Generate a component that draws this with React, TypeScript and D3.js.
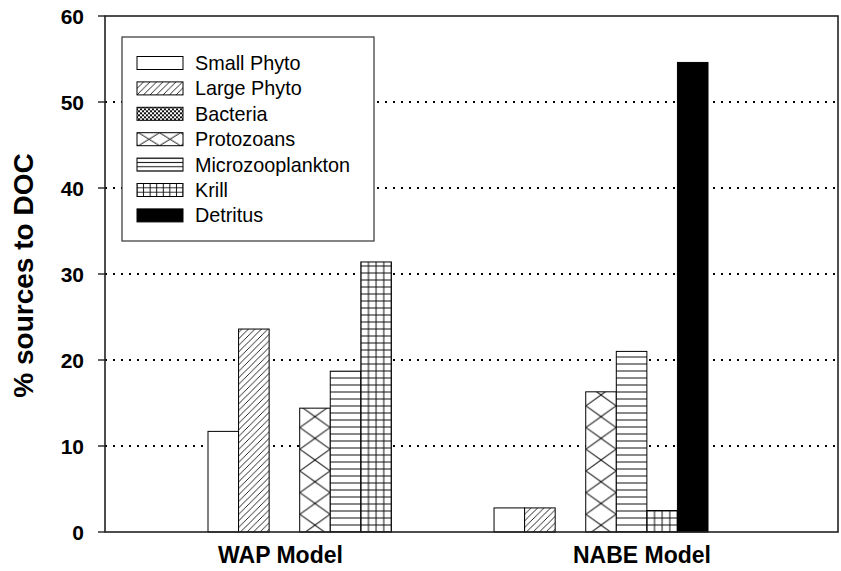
import React from 'react';
import * as d3 from 'd3';

const groups = ['WAP Model', 'NABE Model'];
const seriesNames = ['Small Phyto', 'Large Phyto', 'Bacteria', 'Protozoans', 'Microzooplankton', 'Krill', 'Detritus'];
const wapValues = [11.7, 23.6, 0, 14.4, 18.7, 31.4, 0];
const nabeValues = [2.8, 2.8, 0, 16.3, 21.0, 2.5, 54.6];
const patternKinds = ['none', 'slash', 'dense', 'xdiamond', 'hlines', 'grid', 'solid'];
const yTicks = [0, 10, 20, 30, 40, 50, 60];
const gridValues = [10, 20, 30, 40, 50];

const W = 841;
const H = 571;
const FONT = "'Liberation Sans', Arial, Helvetica, sans-serif";
const LINE = '#111';
const LW = 1;

type Cell = { w: number; h: number; kind: string };

function cellContent(c: Cell) {
  const { w, h, kind } = c;
  const els: any[] = [<rect key="bg" x={0} y={0} width={w} height={h} fill="#fff" />];
  if (kind === 'slash') {
    els.push(
      <path key="p" d={`M0,${h} L${w},0 M${-w / 2},${h / 2} L${w / 2},${-h / 2} M${w / 2},${h * 1.5} L${w * 1.5},${h / 2}`} stroke={LINE} strokeWidth={0.9} fill="none" />
    );
  } else if (kind === 'dense') {
    els.push(
      <path key="p" d={`M0,${h / 2} L${w / 2},0 L${w},${h / 2} L${w / 2},${h} Z`} stroke={LINE} strokeWidth={LW} fill="none" />
    );
  } else if (kind === 'xdiamond') {
    els.push(
      <path key="p" d={`M0,${h / 2} L${w / 2},0 L${w},${h / 2} L${w / 2},${h} Z`} stroke={LINE} strokeWidth={LW} fill="none" />
    );
  } else if (kind === 'hlines') {
    els.push(<path key="p" d={`M0,${h / 2} L${w},${h / 2}`} stroke={LINE} strokeWidth={LW} fill="none" />);
  } else if (kind === 'grid') {
    els.push(
      <path key="p" d={`M0,${h / 2} L${w},${h / 2} M${w / 2},0 L${w / 2},${h}`} stroke={LINE} strokeWidth={LW} fill="none" />
    );
  }
  return els;
}

export default function App() {
  const left = 105;
  const right = 838;
  const top = 16;
  const bottom = 532;

  const y = d3.scaleLinear().domain([0, 60]).range([bottom, top]);

  // bar placement
  const xGroup = d3.scaleBand<string>().domain(groups).range([208, 708]).paddingInner(0.252).paddingOuter(0);
  const xSeries = d3.scaleBand<string>().domain(seriesNames).range([0, xGroup.bandwidth()]).padding(0);
  const bw = xSeries.bandwidth();

  // category labels
  const xLabel = d3.scalePoint<string>().domain(groups).range([280.5, 642]);

  const valuesByGroup = [wapValues, nabeValues];

  const barCell = (kind: string): Cell => {
    switch (kind) {
      case 'slash': return { w: 6.5, h: 6.5, kind };
      case 'dense': return { w: 4, h: 4, kind };
      case 'xdiamond': return { w: bw, h: 21.7, kind };
      case 'hlines': return { w: bw, h: 7, kind };
      case 'grid': return { w: bw / 4, h: 7, kind };
      default: return { w: 10, h: 10, kind };
    }
  };

  const swW = 46;
  const swH = 13;
  const legendCell = (kind: string): Cell => {
    switch (kind) {
      case 'slash': return { w: 6.5, h: 6.5, kind };
      case 'dense': return { w: 4, h: 4, kind };
      case 'xdiamond': return { w: 21, h: swH, kind };
      case 'hlines': return { w: 10, h: swH / 3, kind };
      case 'grid': return { w: swW / 7, h: swH / 3, kind };
      default: return { w: 10, h: 10, kind };
    }
  };

  const bars: any[] = [];
  const defs: any[] = [];
  groups.forEach((g, gi) => {
    seriesNames.forEach((s, si) => {
      const v = valuesByGroup[gi][si];
      if (!v) return;
      const kind = patternKinds[si];
      const bx = (xGroup(g) as number) + (xSeries(s) as number);
      const by = y(v);
      const bh = y(0) - by;
      let fill = '#fff';
      if (kind === 'solid') fill = '#000';
      else if (kind !== 'none') {
        const id = `bp-${gi}-${si}`;
        const c = barCell(kind);
        let px = 0;
        let py = bottom;
        if (kind === 'xdiamond') { px = bx; py = bottom - c.h / 2 + 4; }
        if (kind === 'hlines') { px = bx; py = bottom - c.h / 2; }
        if (kind === 'grid') { px = bx - c.w / 2; py = bottom - c.h / 2; }
        defs.push(
          <pattern key={id} id={id} patternUnits="userSpaceOnUse" x={px} y={py} width={c.w} height={c.h}>
            {cellContent(c)}
          </pattern>
        );
        fill = `url(#${id})`;
      }
      bars.push(
        <rect key={`b-${gi}-${si}`} x={bx} y={by} width={bw} height={bh} fill={fill} stroke="#000" strokeWidth={1} />
      );
    });
  });

  // legend
  const lgX = 122;
  const lgY = 37;
  const lgW = 252;
  const lgH = 204;
  const rowY0 = 63;
  const rowStep = 25.4;
  const swX = 137;
  const legendItems: any[] = [];
  seriesNames.forEach((s, si) => {
    const kind = patternKinds[si];
    const cy = rowY0 + si * rowStep;
    const sy = cy - swH / 2;
    let fill = '#fff';
    if (kind === 'solid') fill = '#000';
    else if (kind !== 'none') {
      const id = `lp-${si}`;
      const c = legendCell(kind);
      let px = swX;
      let py = sy;
      if (kind === 'xdiamond') { px = swX + 1.5 - c.w / 2; py = sy; }
      if (kind === 'hlines') { py = sy - c.h / 2; }
      if (kind === 'grid') { px = swX - c.w / 2; py = sy - c.h / 2; }
      defs.push(
        <pattern key={id} id={id} patternUnits="userSpaceOnUse" x={px} y={py} width={c.w} height={c.h}>
          {cellContent(c)}
        </pattern>
      );
      fill = `url(#${id})`;
    }
    legendItems.push(
      <g key={`l-${si}`}>
        <rect x={swX} y={sy} width={swW} height={swH} fill={fill} stroke="#000" strokeWidth={1} />
        <text x={195} y={cy} dominantBaseline="central" fontSize={19.8} fontFamily={FONT} fill="#000">
          {s}
        </text>
      </g>
    );
  });

  return (
    <div style={{ position: 'absolute', left: 0, top: 0 }}>
      <svg width={W} height={H} style={{ display: 'block' }}>
        <defs>{defs}</defs>
        <rect x={0} y={0} width={W} height={H} fill="#fff" />
        {gridValues.map((v) => (
          <line key={`g-${v}`} x1={left} x2={right} y1={y(v)} y2={y(v)} stroke="#000" strokeWidth={2} strokeDasharray="2 6" />
        ))}
        {bars}
        <rect x={lgX} y={lgY} width={lgW} height={lgH} fill="#fff" stroke="#333" strokeWidth={1.2} />
        {legendItems}
        <rect x={left} y={top} width={right - left} height={bottom - top} fill="none" stroke="#222" strokeWidth={1.6} />
        {yTicks.map((t) => (
          <g key={`t-${t}`}>
            <line x1={left - 7} x2={left} y1={y(t)} y2={y(t)} stroke="#222" strokeWidth={1.4} />
            <text x={84} y={y(t)} textAnchor="end" dominantBaseline="central" fontSize={21} fontWeight="bold" fontFamily={FONT} fill="#000">
              {t}
            </text>
          </g>
        ))}
        <text transform={`translate(23, 275.5) rotate(-90)`} textAnchor="middle" dominantBaseline="central" fontSize={28} fontWeight="bold" fontFamily={FONT} fill="#000">
          % sources to DOC
        </text>
        {groups.map((g) => (
          <text key={`x-${g}`} x={xLabel(g) as number} y={562.7} textAnchor="middle" fontSize={23} fontWeight="bold" fontFamily={FONT} fill="#000">
            {g}
          </text>
        ))}
      </svg>
    </div>
  );
}
